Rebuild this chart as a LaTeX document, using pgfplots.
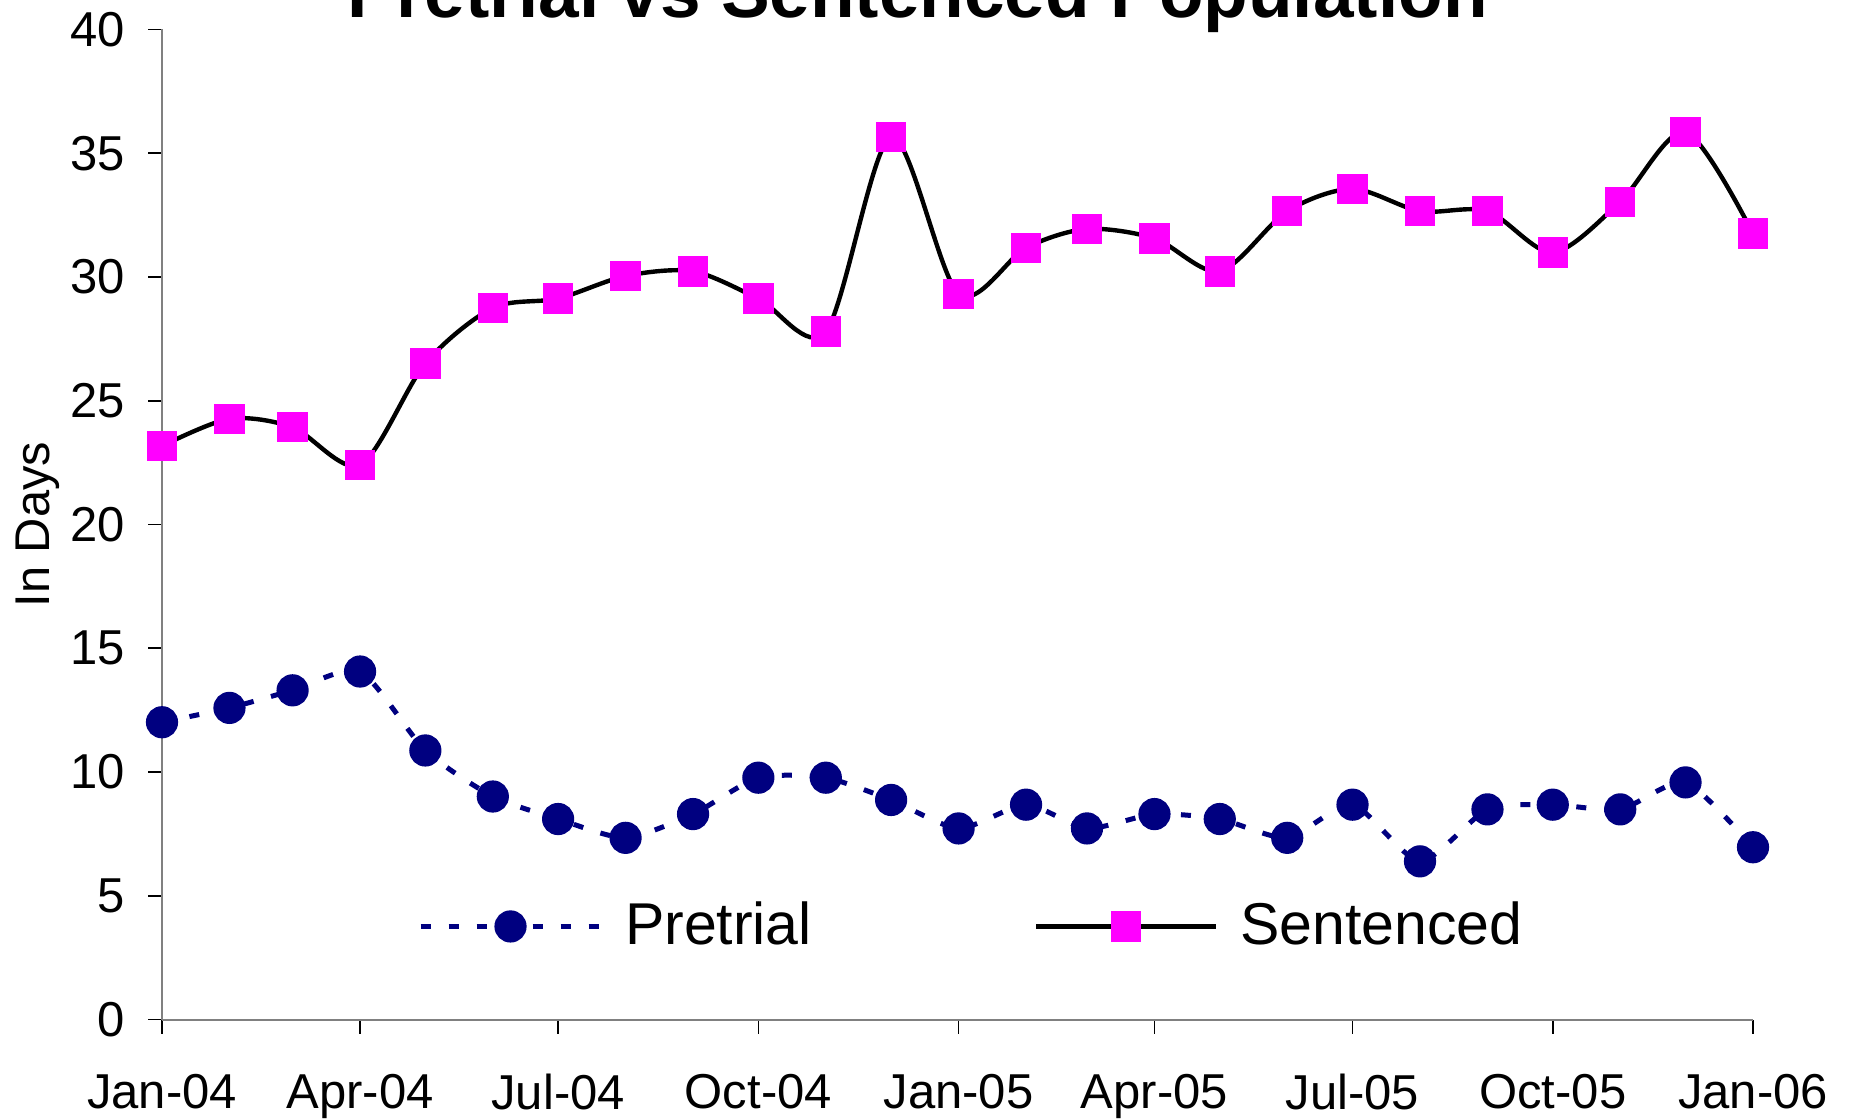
\documentclass[border=0pt]{standalone}
\usepackage{pgfplots}
\pgfplotsset{compat=1.18}
\usepackage{fontspec}
\setmainfont{Liberation Sans}
\definecolor{navyc}{HTML}{000080}
\definecolor{magc}{HTML}{FF00FF}
\definecolor{axgray}{HTML}{808080}
\begin{document}
\begin{tikzpicture}
\begin{axis}[
  scale only axis,
  width=397.75pt, height=247.5pt,
  at={(0,0)}, anchor=south west,
  xmin=0, xmax=731, ymin=0, ymax=40,
  clip=false,
  axis x line*=bottom, axis y line*=left,
  axis line style={-, draw=axgray, line width=0.5pt},
  tick align=outside, major tick length=3.5pt,
  tick style={black, line width=0.4pt},
  xtick={0,91,182,274,366,456,547,639,731},
  xticklabels={Jan-04,Apr-04,Jul-04,Oct-04,Jan-05,Apr-05,Jul-05,Oct-05,Jan-06},
  ytick={0,5,10,15,20,25,30,35,40},
  /pgf/number format/assume math mode=true,
  xticklabel style={font=\fontsize{12.25}{14}\selectfont, anchor=north, inner sep=0pt, yshift=-10pt},
  yticklabel style={font=\fontsize{12.25}{14}\selectfont, anchor=east, inner sep=0pt, xshift=-5.5pt},
  every axis y label/.style={at={(axis description cs:-0.0779,0.5)}, rotate=90, anchor=center, font=\fontsize{12.2}{14}\selectfont},
  ylabel={In Days},
  legend columns=2,
  legend cell align=left,
  legend style={at={(axis description cs:0.508,0.094)}, anchor=center, draw=none, fill=none,
    inner sep=0pt, font=\fontsize{14.75}{17}\selectfont,
    nodes={inner sep=0pt},
    /tikz/every odd column/.append style={column sep=5.5pt},
    /tikz/every even column/.append style={column sep=55.5pt}},
  legend image code/.code={\draw[#1,mark repeat=2,mark phase=2] plot coordinates {(0pt,0pt)(22.5pt,0pt)(45pt,0pt)};},
]
\addplot[color=navyc, line width=1.25pt, dash pattern=on 2.5pt off 4.5pt, smooth, tension=0.4,
  mark=*, mark size=3.4pt, mark options={solid, fill=navyc, draw=navyc}]
coordinates {
(0,12.01)(31,12.59)(60,13.30)(91,14.06)(121,10.87)(152,9.01)(182,8.10)(213,7.34)(244,8.30)(274,9.77)(305,9.77)(335,8.87)
(366,7.72)(397,8.68)(425,7.72)(456,8.30)(486,8.10)(517,7.34)(547,8.68)(578,6.39)(609,8.49)(639,8.68)(670,8.49)(700,9.58)(731,6.96)
};
\addlegendentry{Pretrial}
\addplot[color=black, line width=1.1pt, smooth, tension=0.5,
  mark=square*, mark size=3.25pt, mark options={solid, fill=magc, draw=magc}]
coordinates {
(0,23.17)(31,24.27)(60,23.93)(91,22.41)(121,26.51)(152,28.75)(182,29.13)(213,30.04)(244,30.23)(274,29.13)(305,27.79)(335,35.66)
(366,29.32)(397,31.18)(425,31.94)(456,31.56)(486,30.23)(517,32.66)(547,33.56)(578,32.66)(609,32.66)(639,30.99)(670,33.04)(700,35.85)(731,31.75)
};
\addlegendentry{Sentenced}
\node[anchor=base, font=\bfseries\fontsize{18.25}{21}\selectfont, inner sep=0pt] at ([yshift=2.9pt]axis description cs:0.475,1) {Pretrial vs Sentenced Population};
\end{axis}
\pgfresetboundingbox
\useasboundingbox (-40.5pt,-24.75pt) rectangle (422.25pt,254.875pt);
\end{tikzpicture}
\end{document}
